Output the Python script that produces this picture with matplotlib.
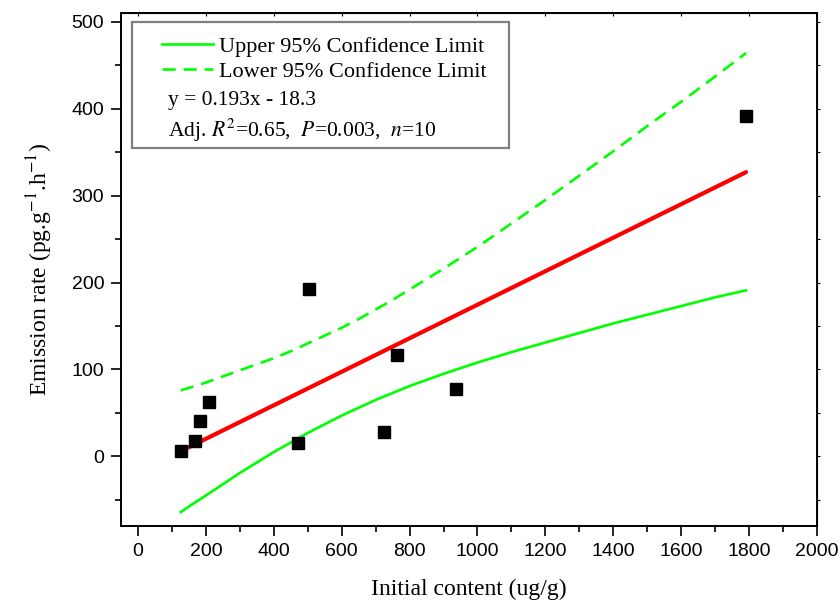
import numpy as np
import matplotlib
matplotlib.use("Agg")
import matplotlib.pyplot as plt
from matplotlib.patches import Rectangle
from matplotlib.ticker import MultipleLocator

# measured points (initial content vs emission rate)
content = [126, 168, 182, 209, 471, 503, 724, 762, 938, 1791]
emission = [6, 18, 41, 63, 15, 193, 28, 117, 78, 391]

# fitted line y = 0.193x - 18.3, end points
fit_x = [126, 1791]
fit_y = [6, 327]

# confidence limit curves
band_x = [126, 160, 200, 250, 300, 350, 400, 450, 500, 550, 600, 650, 700, 750,
          800, 850, 900, 1000, 1100, 1200, 1300, 1400, 1500, 1600, 1700, 1791]
band_dashed = [76, 80, 85, 92, 99, 106, 113, 121, 130, 139, 148, 158, 169, 180,
               192, 204, 216, 241, 268, 295, 323, 351, 380, 408, 437, 464]
band_solid = [-64, -55, -45, -32, -19, -7, 5, 16, 27, 37, 47, 56, 65, 73,
              81, 88, 95, 108, 120, 131, 142, 153, 163, 173, 183, 191]

plt.rcParams['mathtext.fontset'] = 'stix'
serif = 'Liberation Serif'
sans = 'Liberation Sans'

fig = plt.figure(figsize=(8.39, 6.03), dpi=100)
ax = fig.add_axes([0.1442, 0.1277, 0.8296, 0.8507])

ax.plot(band_x, band_solid, color='#00ff00', lw=1.9, label='Upper 95% Confidence Limit')
ax.plot(band_x, band_dashed, color='#00ff00', lw=1.9, ls=(0, (5, 3)),
        label='Lower 95% Confidence Limit')
ax.plot(fit_x, fit_y, color='#ff0000', lw=3, solid_capstyle='round', zorder=3)
ax.plot(content, emission, ls='none', marker='s', ms=8, color='black', zorder=4)

ax.set_xlim(-50, 2000)
ax.set_ylim(-80, 510)
ax.xaxis.set_major_locator(MultipleLocator(200))
ax.xaxis.set_minor_locator(MultipleLocator(100))
ax.yaxis.set_major_locator(MultipleLocator(100))
ax.yaxis.set_minor_locator(MultipleLocator(50))
ax.tick_params(which='major', length=7, width=1.2, direction='out', labelsize=14, pad=5)
ax.tick_params(which='minor', length=4, width=1.2, direction='out')
for lab in ax.get_xticklabels() + ax.get_yticklabels():
    lab.set_family(sans)
for sp in ax.spines.values():
    sp.set_linewidth(1.4)

# tiny ticks on top and right spines
top = ax.secondary_xaxis('top')
top.xaxis.set_major_locator(MultipleLocator(200))
top.tick_params(direction='in', length=2.5, labeltop=False)
right = ax.secondary_yaxis('right')
right.yaxis.set_major_locator(MultipleLocator(50))
right.tick_params(direction='out', length=2.5, labelright=False)

ax.set_xlabel('Initial content (ug/g)', family=serif, fontsize=17, labelpad=14)
ax.set_ylabel(r'Emission rate (pg.g$^{-1}$.h$^{-1}$)', family=serif, fontsize=17, labelpad=12)

# legend box
ax.add_patch(Rectangle((0.0158, 0.7368), 0.5417, 0.2457, transform=ax.transAxes,
                       fill=False, edgecolor='#7f7f7f', lw=1.6, zorder=5))
leg = ax.legend(loc='upper left', bbox_to_anchor=(0.059, 0.954), frameon=False,
                prop={'family': serif, 'size': 16}, handlelength=2.3,
                handletextpad=0.25, labelspacing=0.19, borderpad=0, borderaxespad=0)
ax.text(0.0675, 0.830, 'y = 0.193x - 18.3', transform=ax.transAxes,
        family=serif, fontsize=15.5, va='center')
ax.text(0.0675, 0.772, r'Adj. $\mathit{R}^2$=0.65,  $\mathit{P}$=0.003,  $\mathit{n}$=10',
        transform=ax.transAxes, family=serif, fontsize=15.5, va='center')

fig.savefig('out.png', dpi=100)
